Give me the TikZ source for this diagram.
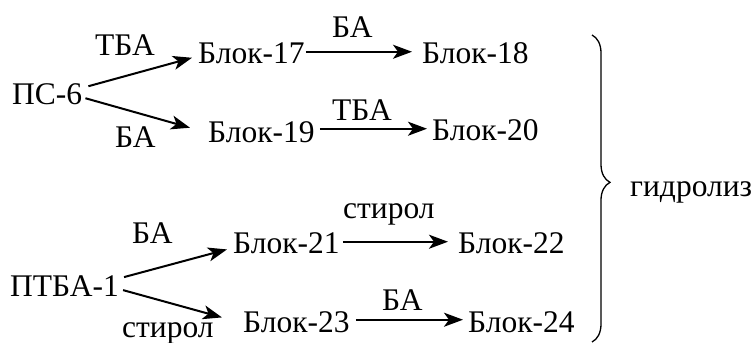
\documentclass[tikz,border=0pt]{standalone}
\usepackage{fontspec}
\setmainfont{Liberation Serif}
\usetikzlibrary{arrows.meta,decorations.pathreplacing}
\begin{document}
\begin{tikzpicture}[x=1pt,y=-1pt,
  txt/.style={inner sep=0pt, anchor=base west, font=\fontsize{31.5}{36}\selectfont},
  arr/.style={line width=2pt, -{Stealth[length=19pt,width=14pt,inset=5pt]}},
  brc/.style={line width=1.3pt, decorate, decoration={brace,amplitude=18pt,aspect=0.48}}]
\useasboundingbox (0,0) rectangle (756,343);
% top group
\node[txt] (ps6) at (12,104) {ПС-6};
\node[txt] (l1) at (95,55) {ТБА};
\node[txt] (l2) at (115,147) {БА};
\node[txt] (b17) at (198,63) {Блок-17};
\node[txt] (b18) at (422,63) {Блок-18};
\node[txt] (b19) at (208,142) {Блок-19};
\node[txt] (b20) at (432,140) {Блок-20};
\node[txt] (l3) at (332,37) {БА};
\node[txt] (l4) at (332,120) {ТБА};
% bottom group
\node[txt] (ptba) at (10,296) {ПТБА-1};
\node[txt] (l5) at (132,243) {БА};
\node[txt] (l6) at (122,337) {стирол};
\node[txt] (b21) at (233,253) {Блок-21};
\node[txt] (b22) at (458,253) {Блок-22};
\node[txt] (b23) at (243,332) {Блок-23};
\node[txt] (b24) at (468,332) {Блок-24};
\node[txt] (l7) at (343,218) {стирол};
\node[txt] (l8) at (382,310) {БА};
\node[txt] (hyd) at (630,196) {гидролиз};
% connectors
\draw[arr] ([xshift=6pt,yshift=7.5pt]ps6.east) -- ([xshift=-6pt,yshift=-5pt]b17.west);
\draw[arr] ([xshift=3pt,yshift=-4.5pt]ps6.east) -- ([xshift=-18pt,yshift=4pt]b19.west);
\draw[arr] ([xshift=1pt,yshift=1pt]b17.east) -- ([xshift=-10pt,yshift=1pt]b17.east -| b18.west);
\draw[arr] ([xshift=5pt,yshift=3pt]b19.east) -- ([xshift=-5pt,yshift=3pt]b19.east -| b20.west);
\draw[arr] ([xshift=5pt,yshift=8.5pt]ptba.east) -- ([xshift=-6pt,yshift=-6.7pt]b21.west);
\draw[arr] ([xshift=4pt,yshift=-4.5pt]ptba.east) -- ([xshift=-21pt,yshift=4.3pt]b23.west);
\draw[arr] ([xshift=3pt,yshift=1pt]b21.east) -- ([xshift=-10pt,yshift=1pt]b21.east -| b22.west);
\draw[arr] ([xshift=6pt,yshift=2pt]b23.east) -- ([xshift=-5pt,yshift=2pt]b23.east -| b24.west);
% brace
\coordinate (bt) at (592,35);
\coordinate (bb) at (592,342);
\draw[brc] (bt) -- (bb);
\end{tikzpicture}
\end{document}
